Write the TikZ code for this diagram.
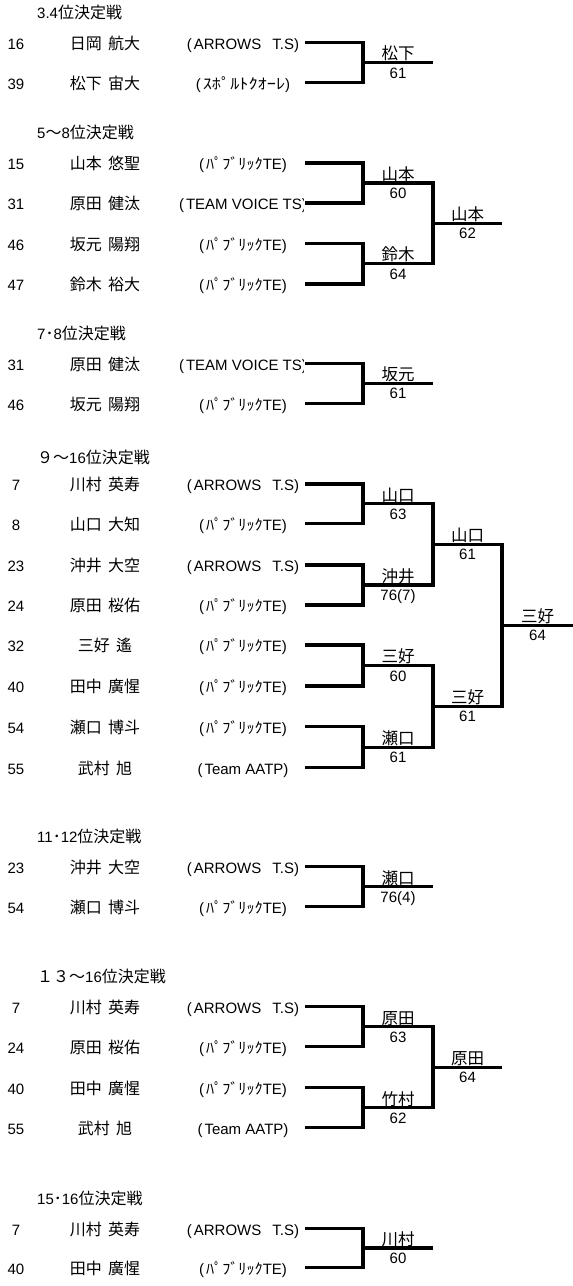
\documentclass[tikz,border=0pt]{standalone}
\usepackage{fontspec}
\setmainfont{Liberation Sans}
\newfontfamily\cjk[WordSpace=1.7]{Noto Sans CJK JP}
\newcommand\tARW{(\kern2pt ARROWS\hspace{11pt}T.S)}
\newcommand\tPUB{(\kern2pt\scalebox{1.08}[1]{\cjk ﾊﾟﾌﾞﾘｯｸ}TE)}
\newcommand\tSPO{(\kern2pt\scalebox{1.22}[1]{\cjk ｽﾎﾟﾙﾄｸｵｰﾚ})}
\newcommand\tAATP{(\kern2pt Team AATP)}
\newcommand\tTVT{(\kern2pt TEAM VOICE TS)}
\tikzset{
  seed/.style={font=\fontsize{15}{15}\selectfont, inner sep=0, anchor=base},
  pname/.style={font=\fontsize{16}{16}\selectfont\cjk, inner sep=0, anchor=base},
  team/.style={font=\fontsize{15}{15}\selectfont, inner sep=0, anchor=base},
  hdr/.style={font=\fontsize{15}{15}\selectfont, inner sep=0, anchor=base west},
  wname/.style={font=\fontsize{16.5}{16.5}\selectfont\cjk, inner sep=0, anchor=base},
  wscore/.style={font=\fontsize{15}{15}\selectfont, inner sep=0, anchor=base},
  br/.style={line width=3.4pt, black},
}
\newcommand\hjp[1]{{\fontsize{16}{16}\selectfont\cjk #1}}
\newcommand\prow[5]{%
  \node[seed] (#1s) at (16,#2+6.8) {#3};
  \node[pname] (#1n) at (105,#2+6.8) {#4};
  \begin{scope}
    \clip (150,#2-14) rectangle (303,#2+14);
    \node[team] (#1t) at (243,#2+6.8) {#5};
  \end{scope}
  \coordinate (#1e) at (305,#2);
}
\newcommand\bracket[8]{%
  \coordinate (#1j) at (#4,#6);
  \coordinate (#1w) at (#5,#6);
  \draw[br] (#2) -| (#1j) |- (#3);
  \draw[br] (#1j) -- (#1w);
  \node[wname] (#1n) at ({(#4+#5)/2},#6-2.6) {#7};
  \node[wscore] (#1s) at ({(#4+#5)/2},#6+15.5) {#8};
}
\begin{document}
\begin{tikzpicture}[x=1pt,y=-1pt]
\useasboundingbox (0,0) rectangle (573,1286);

% ---------- 3.4位決定戦
\node[hdr] (h1) at (37,18.5) {3.4\hjp{位決定戦}};
\prow{aa}{42.5}{16}{日岡 航大}{\tARW}
\prow{ab}{82.5}{39}{松下 宙大}{\tSPO}
\bracket{am}{aae}{abe}{363}{433}{62.5}{松下}{61}

% ---------- 5～8位決定戦
\node[hdr] (h2) at (37,138.8) {5\hjp{～}8\hjp{位決定戦}};
\prow{ba}{162.8}{15}{山本 悠聖}{\tPUB}
\prow{bb}{202.8}{31}{原田 健汰}{\tTVT}
\prow{bc}{243.3}{46}{坂元 陽翔}{\tPUB}
\prow{bd}{283.8}{47}{鈴木 裕大}{\tPUB}
\bracket{bm}{bae}{bbe}{363}{433}{182.8}{山本}{60}
\bracket{bn}{bce}{bde}{363}{433}{263.55}{鈴木}{64}
\bracket{bf}{bmj}{bnj}{433}{502}{223.2}{山本}{62}

% ---------- 7・8位決定戦
\node[hdr] (h3) at (37,339.3) {7\hjp{･}8\hjp{位決定戦}};
\prow{ca}{363.3}{31}{原田 健汰}{\tTVT}
\prow{cb}{403.3}{46}{坂元 陽翔}{\tPUB}
\bracket{cm}{cae}{cbe}{363}{433}{383.3}{坂元}{61}

% ---------- 9～16位決定戦
\node[hdr] (h4) at (37,463) {\hjp{９～}16\hjp{位決定戦}};
\prow{da}{484}{7}{川村 英寿}{\tARW}
\prow{db}{523.3}{8}{山口 大知}{\tPUB}
\prow{dc}{565}{23}{沖井 大空}{\tARW}
\prow{dd}{605}{24}{原田 桜佑}{\tPUB}
\prow{de}{645}{32}{三好 遙}{\tPUB}
\prow{df}{686}{40}{田中 廣惺}{\tPUB}
\prow{dg}{726.7}{54}{瀬口 博斗}{\tPUB}
\prow{dh}{767.7}{55}{武村 旭}{\tAATP}
\bracket{dm}{dae}{dbe}{363}{433}{503.65}{山口}{63}
\bracket{dn}{dce}{dde}{363}{433}{585}{沖井}{76(7)}
\bracket{do}{dee}{dfe}{363}{433}{665.5}{三好}{60}
\bracket{dp}{dge}{dhe}{363}{433}{747.2}{瀬口}{61}
\bracket{dq}{dmj}{dnj}{433}{502}{544.3}{山口}{61}
\bracket{dr}{doj}{dpj}{433}{502}{706.35}{三好}{61}
\bracket{dz}{dqj}{drj}{502}{573}{625.3}{三好}{64}

% ---------- 11・12位決定戦
\node[hdr] (h5) at (37,842.7) {11\hjp{･}12\hjp{位決定戦}};
\prow{ea}{866.7}{23}{沖井 大空}{\tARW}
\prow{eb}{906.7}{54}{瀬口 博斗}{\tPUB}
\bracket{em}{eae}{ebe}{363}{433}{886.7}{瀬口}{76(4)}

% ---------- 13～16位決定戦
\node[hdr] (h6) at (37,982.7) {\hjp{１３～}16\hjp{位決定戦}};
\prow{fa}{1006.7}{7}{川村 英寿}{\tARW}
\prow{fb}{1046.7}{24}{原田 桜佑}{\tPUB}
\prow{fc}{1087.7}{40}{田中 廣惺}{\tPUB}
\prow{fd}{1127.7}{55}{武村 旭}{\tAATP}
\bracket{fm}{fae}{fbe}{363}{433}{1026.7}{原田}{63}
\bracket{fn}{fce}{fde}{363}{433}{1107.7}{竹村}{62}
\bracket{ff}{fmj}{fnj}{433}{502}{1067.2}{原田}{64}

% ---------- 15・16位決定戦
\node[hdr] (h7) at (37,1204.3) {15\hjp{･}16\hjp{位決定戦}};
\prow{ga}{1228.3}{7}{川村 英寿}{\tARW}
\prow{gb}{1267.3}{40}{田中 廣惺}{\tPUB}
\bracket{gm}{gae}{gbe}{363}{433}{1247.8}{川村}{60}
\end{tikzpicture}
\end{document}
